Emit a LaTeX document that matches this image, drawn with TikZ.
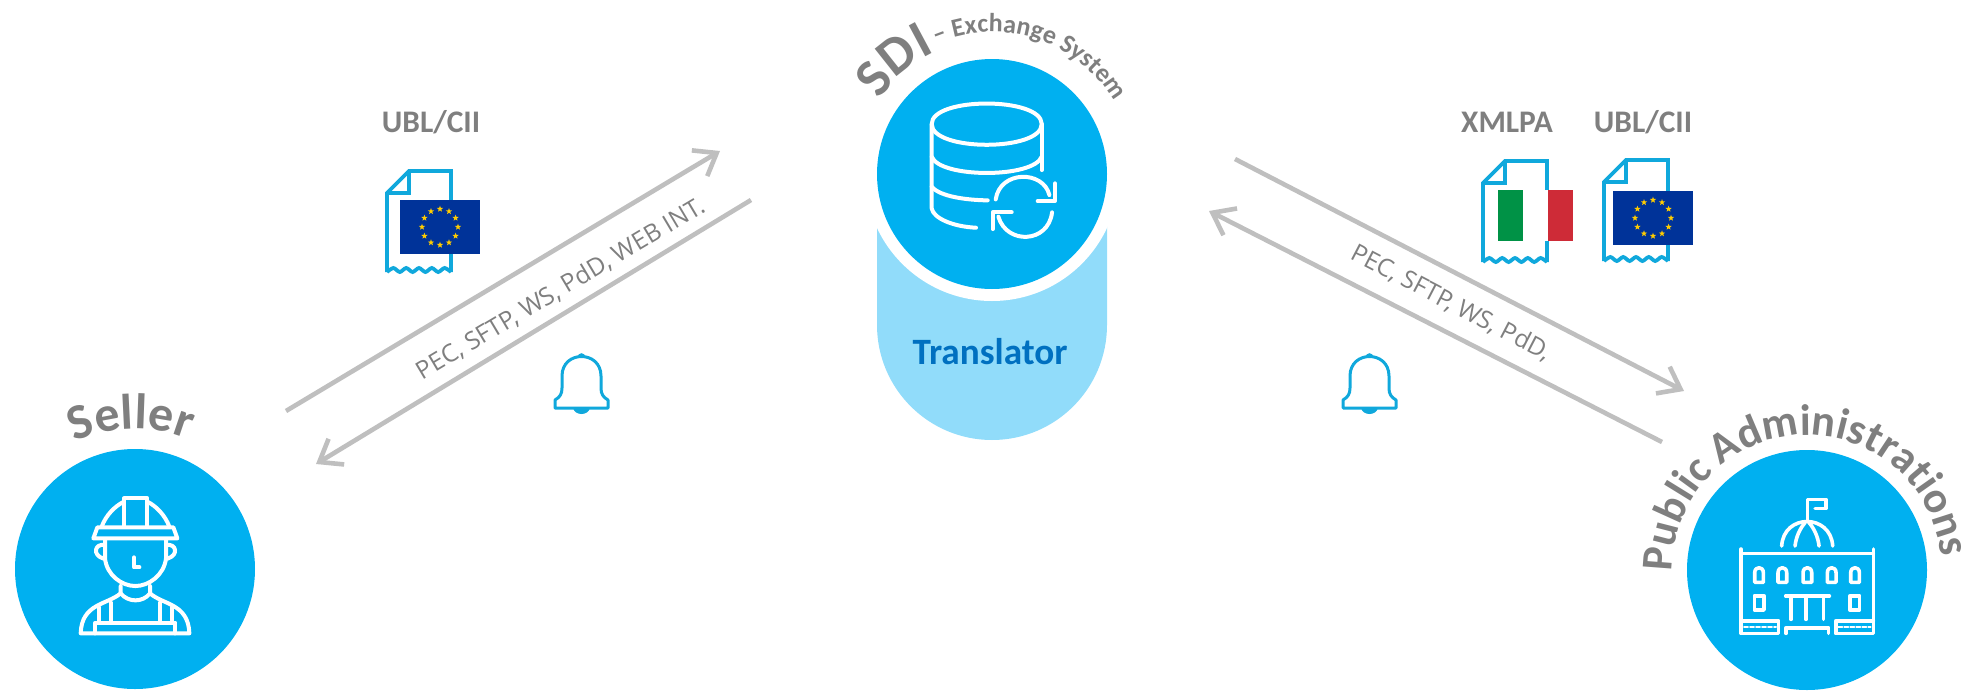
\documentclass[tikz,border=0pt]{standalone}
\usepackage{fontspec}
\setmainfont{Carlito}
\newfontfamily\flowfont{Open Sans}
\usetikzlibrary{arrows.meta, calc, positioning, shapes.geometric, decorations.text}
\definecolor{hubblue}{HTML}{00B0F0}
\definecolor{lightblue}{HTML}{91DCFA}
\definecolor{docblue}{HTML}{10A8DC}
\definecolor{flowgray}{HTML}{BFBFBF}
\definecolor{labelgray}{HTML}{7F7F7F}
\definecolor{deepblue}{HTML}{0070C0}
\definecolor{eublue}{HTML}{003399}
\definecolor{eugold}{HTML}{FFCC00}
\definecolor{itgreen}{HTML}{009246}
\definecolor{itred}{HTML}{CE2B37}
\newcommand{\formatfont}{\fontsize{15.7}{18}\selectfont\bfseries}
\newcommand{\bigarc}{\fontsize{27}{30}\selectfont\bfseries\color{labelgray}}
\newcommand{\smallarc}{\fontsize{13}{16}\selectfont\bfseries\color{labelgray}}
\newcommand{\sellerarc}{\fontsize{25}{28}\selectfont\bfseries\color{labelgray}}
\newcommand{\paarc}{\fontsize{22}{26}\selectfont\bfseries\color{labelgray}}
\tikzset{
	hub/.style={circle, fill=hubblue, minimum size=#1, inner sep=0pt},
	flow/.style={draw=flowgray, line width=2.3pt, -{Straight Barb[length=10pt, width=15pt]}},
	flowtext/.style={text=labelgray, font=\flowfont\fontsize{12.3}{15}\selectfont, inner sep=0pt},
	fmttext/.style={text=labelgray, font=\formatfont, inner sep=0pt},
	icon/.style={draw=white, line width=2pt, line cap=round, line join=round},
	docline/.style={draw=docblue, line width=1.9pt, line join=miter},
	bellline/.style={draw=docblue, line width=1.5pt, line join=round},
	eustar/.style={star, star points=5, star point ratio=2.4, fill=eugold, minimum size=3.3pt, inner sep=0pt}
}
\newcommand{\docicon}[2]{
	\begin{scope}[shift={(#1,#2)}]
		\draw[docline] (0,101) -- (0,22) -- (22,0) -- (64,0) -- (64,101);
		\draw[docline] (22,0) -- (22,22) -- (0,22);
		\draw[docline] plot[smooth, tension=.5] coordinates {(0,101) (6.4,97) (12.8,101) (19.2,97) (25.6,101) (32,97) (38.4,101) (44.8,97) (51.2,101) (57.6,97) (64,101)};
	\end{scope}
}
\newcommand{\euflag}[3]{
	\begin{scope}[shift={(#2,#3)}]
		\fill[eublue] (-40,-27) rectangle (40,27);
		\foreach \a in {0,30,...,330} {
			\path (\a:9pt) node[eustar] (#1 star \a) {};
		}
	\end{scope}
}
\newcommand{\bellicon}[1]{
	\begin{scope}[shift={(#1,0)}]
		\fill[docblue] (581.5,357) circle (1.9pt);
		\fill[docblue] (573,408) .. controls (575,416) and (588,416) .. (590,408) -- cycle;
		\draw[bellline, fill=white] (555,408) -- (555,400) .. controls (560,397) and (562,394) .. (562,388) -- (562,376) .. controls (562,350) and (601,350) .. (601,376) -- (601,388) .. controls (601,394) and (603,397) .. (608,400) -- (608,408) -- cycle;
	\end{scope}
}

\begin{document}
\begin{tikzpicture}[x=.5pt, y=-.5pt]
	\useasboundingbox (0,0) rectangle (1967,691);
	\fill[lightblue, rounded corners=57.5pt] (877,200) -- (877,440) -- (1107,440) -- (1107,200);
	\fill[white] (992,174) circle (63.5pt);
	\path (992,174) node[hub=115pt] (sdi hub) {};
	\path (135,569) node[hub=120pt] (seller hub) {};
	\path (1807,570) node[hub=120pt] (pa hub) {};
	\path (sdi hub) ++ (-2,178) node[text=deepblue, font=\fontsize{18.6}{22}\selectfont\bfseries, inner sep=0pt] (translator) {Translator};

	\path (seller hub) ++ (151,-158) coordinate (seller up);
	\path (sdi hub) ++ (-272,-23) coordinate (sdi in);
	\path (sdi hub) ++ (-241,26) coordinate (sdi back);
	\path (seller hub) ++ (181,-105) coordinate (seller in);
	\path (sdi hub) ++ (243,-15) coordinate (sdi out);
	\path (pa hub) ++ (-123,-179) coordinate (pa in);
	\path (pa hub) ++ (-145,-128) coordinate (pa back);
	\path (sdi hub) ++ (217,37) coordinate (sdi ack);
	\draw[flow] (seller up) -- (sdi in);
	\draw[flow] (sdi back) -- (seller in);
	\draw[flow] (sdi out) -- (pa in);
	\draw[flow] (pa back) -- (sdi ack);

	\path (561,289) node[flowtext, rotate=30.8] (seller channels) {PEC, SFTP, WS, PdD, WEB INT.};
	\path (1451,303) node[flowtext, rotate=-27.5] (pa channels) {PEC, SFTP, WS, PdD,};

	\path (431,122) node[fmttext] (ubl left) {UBL/CII};
	\path (1507,122) node[fmttext] (xmlpa) {XMLPA};
	\path (1643,122) node[fmttext] (ubl right) {UBL/CII};

	\path[decorate, decoration={text along path, text align=center, text={|\sellerarc|Seller}}]
		(seller hub.center) ++ (136.5:70pt) arc[start angle=136.5, end angle=46.5, radius=70pt];
	\path[decorate, decoration={text along path, text align=center, text={|\bigarc|SDI}}]
		(sdi hub.center) ++ (160.75:67.5pt) arc[start angle=160.75, end angle=100.75, radius=67.5pt];
	\path[decorate, decoration={text along path, text align=center, text={|\smallarc|– Exchange System}}]
		(sdi hub.center) ++ (132:71pt) arc[start angle=132, end angle=12, radius=71pt];
	\path[decorate, decoration={text along path, text align=center, text={|\paarc|Public Administrations}}]
		(pa hub.center) ++ (193:67.5pt) arc[start angle=193, end angle=-7, radius=67.5pt];

	\docicon{387}{171}
	\euflag{left}{440}{227}
	\docicon{1483}{161}
	\fill[white] (1535.5,190) rectangle (1560.5,241);
	\fill[itgreen] (1498,190) rectangle (1523,241);
	\fill[white] (1523,190) rectangle (1548,241);
	\fill[itred] (1548,190) rectangle (1573,241);
	\docicon{1604}{160}
	\euflag{right}{1653}{218}
	\bellicon{0}
	\bellicon{788}

	\begin{scope}[shift={(840,0)}, x=.1667pt, y=-.1667pt]
		\draw[icon] (275,372) .. controls (275,290) and (605,290) .. (605,372) .. controls (605,455) and (275,455) .. (275,372);
		\draw[icon] (275,372) -- (275,625) .. controls (280,655) and (340,680) .. (408,683);
		\draw[icon] (605,372) -- (605,510);
		\draw[icon] (275,470) .. controls (300,535) and (580,535) .. (605,470);
		\draw[icon] (275,560) .. controls (300,590) and (380,600) .. (443,601);
		\draw[icon] (467,598) .. controls (480,510) and (610,510) .. (628,585);
		\draw[icon] (645,550) -- (645,603) -- (593,603);
		\draw[icon] (475,650) .. controls (500,735) and (625,730) .. (636,637);
		\draw[icon] (515,637) -- (458,637) -- (458,687);
	\end{scope}

	\begin{scope}[shift={(60,480)}, x=.1667pt, y=-.1667pt]
		\draw[icon] (100,175) -- (112,142) -- (340,142) -- (352,175) -- cycle;
		\draw[icon] (125,140) .. controls (138,105) and (165,78) .. (192,65);
		\draw[icon] (328,140) .. controls (315,105) and (288,78) .. (262,65);
		\draw[icon] (192,140) -- (192,55) -- (262,55) -- (262,140);
		\draw[icon] (135,178) -- (135,235) .. controls (140,285) and (185,318) .. (226,318) .. controls (267,318) and (312,285) .. (318,235) -- (318,178);
		\draw[icon] (133,195) .. controls (105,190) and (95,225) .. (131,236);
		\draw[icon] (320,195) .. controls (348,190) and (358,225) .. (322,236);
		\draw[icon] (222,232) -- (222,262) -- (238,262);
		\draw[icon] (182,318) -- (182,340) .. controls (205,368) and (248,368) .. (270,340) -- (270,318);
		\draw[icon] (182,340) .. controls (140,375) and (65,370) .. (62,460) -- (388,460) .. controls (385,370) and (310,375) .. (270,340);
		\draw[icon] (118,382) -- (118,425);
		\draw[icon] (152,368) -- (152,425);
		\draw[icon] (300,368) -- (300,425);
		\draw[icon] (335,382) -- (335,425);
		\draw[icon] (106,460) -- (106,428) -- (346,428) -- (346,460);
	\end{scope}

	\begin{scope}[shift={(1620,400)}, x=.1667pt, y=-.1667pt, icon/.append style={line width=1.8pt}]
		\draw[icon] (562,365) -- (562,298) -- (618,298) -- (618,325) -- (585,325);
		\draw[icon] (485,438) .. controls (490,340) and (632,340) .. (638,438);
		\draw[icon] (525,438) .. controls (528,410) and (540,385) .. (555,368);
		\draw[icon] (597,438) .. controls (594,410) and (582,385) .. (567,368);
		\draw[icon] (363,460) -- (760,460);
		\draw[icon] (363,447) -- (363,700) -- (475,700) -- (475,662) -- (363,662);
		\draw[icon] (760,447) -- (760,700) -- (647,700) -- (647,662) -- (760,662);
		\draw[icon, line width=.9pt, dash pattern=on 2pt off 1pt] (372,680) -- (468,680);
		\draw[icon, line width=.9pt, dash pattern=on 2pt off 1pt] (655,680) -- (752,680);
		\draw[icon] (498,700) -- (498,683) -- (625,683) -- (625,700);
		\draw[icon] (497,588) -- (628,588);
		\draw[icon] (513,588) -- (513,658);
		\draw[icon] (610,588) -- (610,658);
		\draw[icon] (558,588) -- (558,658);
		\foreach \wx in {417,487,562,635,705} {
			\draw[icon] (\wx-13,547) -- (\wx-13,518) .. controls (\wx-13,498) and (\wx+13,498) .. (\wx+13,518) -- (\wx+13,547) -- cycle;
		}
		\draw[icon] (403,587) rectangle (432,630);
		\draw[icon] (690,587) rectangle (718,630);
	\end{scope}
\end{tikzpicture}
\end{document}
